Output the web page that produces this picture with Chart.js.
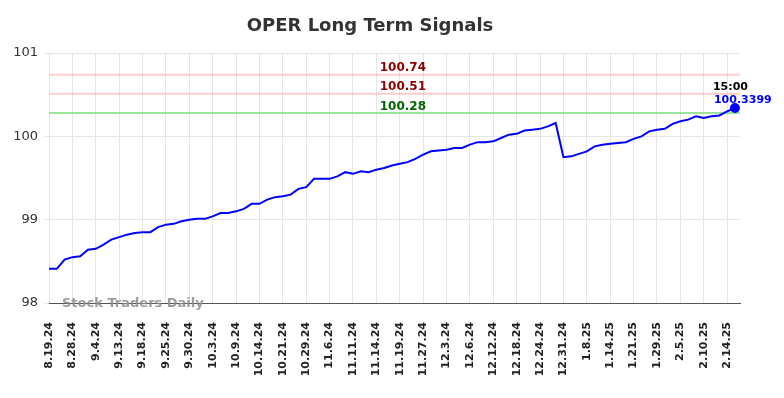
<!DOCTYPE html>
<html>
<head>
<meta charset="utf-8">
<script src="https://cdn.jsdelivr.net/npm/chart.js@4"></script>
<style>
  html, body { margin: 0; padding: 0; background: #ffffff; }
  #wrap { width: 784px; height: 398px; position: relative; }
</style>
</head>
<body>
<div id="wrap"><canvas id="c" width="784" height="398"></canvas></div>
<script>
// ---- data ----
const tickLabels = ["8.19.24","8.28.24","9.4.24","9.13.24","9.18.24","9.25.24","9.30.24","10.3.24","10.9.24","10.14.24",
  "10.21.24","10.29.24","11.6.24","11.11.24","11.14.24","11.19.24","11.27.24","12.3.24","12.6.24","12.12.24",
  "12.18.24","12.24.24","12.31.24","1.8.25","1.14.25","1.21.25","1.29.25","2.5.25","2.10.25","2.14.25"];
const pointsPerLabel = 3;
const values = [
  98.41, 98.41, 98.52, 98.55, 98.56, 98.64, 98.65, 98.70, 98.76, 98.79,
  98.82, 98.84, 98.85, 98.85, 98.91, 98.94, 98.95, 98.98, 99.00, 99.01,
  99.01, 99.04, 99.08, 99.08, 99.10, 99.13, 99.19, 99.19, 99.24, 99.27,
  99.28, 99.30, 99.37, 99.39, 99.49, 99.49, 99.49, 99.52, 99.57, 99.55,
  99.58, 99.57, 99.60, 99.62, 99.65, 99.67, 99.69, 99.73, 99.78, 99.82,
  99.83, 99.84, 99.86, 99.86, 99.90, 99.93, 99.93, 99.94, 99.98, 100.02,
  100.03, 100.07, 100.08, 100.09, 100.12, 100.16, 99.75, 99.76, 99.79, 99.82,
  99.88, 99.90, 99.91, 99.92, 99.93, 99.97, 100.00, 100.06, 100.08, 100.09,
  100.15, 100.18, 100.20, 100.24, 100.22, 100.24, 100.25, 100.30, 100.3399
];
const signalLevels = [100.74, 100.51, 100.28];
const signalLabels = ["100.74", "100.51", "100.28"];
const signalLineColors = ["rgba(255,160,160,0.55)", "rgba(255,160,160,0.55)", "rgba(120,220,120,0.75)"];
const signalTextColors = ["#8b0000", "#8b0000", "#006400"];
const lastTime = "15:00";
const lastValueText = "100.3399";
const yTicks = [98, 99, 100, 101];

// ---- chart ----
Chart.defaults.font.family = "'DejaVu Sans', sans-serif";
const xMax = values.length - 1 + 0.65;

const datasets = signalLevels.map((lvl, k) => ({
  data: [{x: 0, y: lvl}, {x: xMax, y: lvl}],
  borderColor: signalLineColors[k],
  borderWidth: 2,
  pointRadius: 0,
  fill: false,
  order: 2
}));
datasets.push({
  data: values.map((v, i) => ({x: i, y: v})),
  borderColor: "#0000ff",
  backgroundColor: "#0000ff",
  borderWidth: 2,
  pointRadius: values.map((v, i) => i === values.length - 1 ? 4 : 0),
  pointHoverRadius: 0,
  tension: 0,
  fill: false,
  order: 1
});

const overlay = {
  id: "overlay",
  afterDatasetsDraw(chart) {
    const ctx = chart.ctx;
    const xs = chart.scales.x, ys = chart.scales.y;
    const area = chart.chartArea;
    ctx.save();
    // signal labels
    ctx.font = "bold 12px 'DejaVu Sans'";
    ctx.textAlign = "center";
    ctx.textBaseline = "alphabetic";
    const cx = xs.getPixelForValue(45.4);
    signalLevels.forEach((lvl, k) => {
      ctx.fillStyle = signalTextColors[k];
      ctx.fillText(signalLabels[k], cx, ys.getPixelForValue(lvl) - 3.5);
    });
    // last point annotation
    const li = values.length - 1;
    const px = xs.getPixelForValue(li), py = ys.getPixelForValue(values[li]);
    ctx.textAlign = "left";
    ctx.font = "bold 11px 'DejaVu Sans'";
    ctx.fillStyle = "#000000";
    ctx.fillText(lastTime, px - 22, py - 18);
    ctx.fillStyle = "#0000ff";
    ctx.fillText(lastValueText, px - 21, py - 5);
    // watermark
    ctx.font = "bold 13px 'DejaVu Sans'";
    ctx.fillStyle = "rgba(140,140,140,0.85)";
    ctx.fillText("Stock Traders Daily", area.left + 13, area.bottom + 3.5);
    ctx.restore();
  }
};

new Chart(document.getElementById("c"), {
  type: "line",
  data: { datasets },
  options: {
    responsive: false,
    animation: false,
    events: [],
    layout: { padding: { left: 0, right: 44, top: 0, bottom: 0 } },
    plugins: {
      legend: { display: false },
      tooltip: { enabled: false },
      title: {
        display: true,
        text: "OPER Long Term Signals",
        color: "#333333",
        font: { size: 18, weight: "bold", family: "'DejaVu Sans'" },
        padding: { top: 16, bottom: 15.4 }
      }
    },
    scales: {
      x: {
        type: "linear",
        min: 0,
        max: xMax,
        afterBuildTicks(scale) {
          scale.ticks = tickLabels.map((_, i) => ({ value: i * pointsPerLabel }));
        },
        afterFit(scale) { scale.height = 95; },
        ticks: {
          autoSkip: false,
          maxRotation: 90,
          minRotation: 90,
          padding: 19,
          color: "#222222",
          font: { size: 11, weight: "bold" },
          callback: (v) => tickLabels[Math.round(v / pointsPerLabel)]
        },
        grid: { color: "#e6e6e6", drawTicks: false, lineWidth: 1 },
        border: { display: true, color: "#555555", width: 1 }
      },
      y: {
        type: "linear",
        min: 98,
        max: 101,
        afterBuildTicks(scale) {
          scale.ticks = yTicks.map(v => ({ value: v }));
        },
        afterFit(scale) { scale.width = 49; },
        ticks: {
          padding: 6,
          color: "#333333",
          font: { size: 13 },
          callback: (v) => String(v)
        },
        grid: { color: "#e6e6e6", tickLength: 5, lineWidth: 1 },
        border: { display: false }
      }
    }
  },
  plugins: [overlay]
});
</script>
</body>
</html>
